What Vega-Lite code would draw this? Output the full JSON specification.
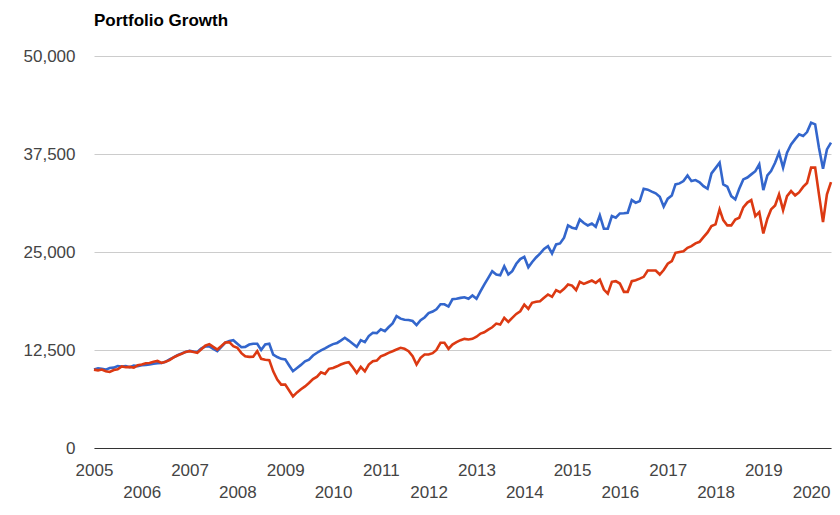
{
  "$schema": "https://vega.github.io/schema/vega-lite/v6.json",
  "width": 737,
  "height": 392,
  "autosize": "none",
  "padding": {"left": 94, "top": 56, "right": 9, "bottom": 67},
  "background": "white",
  "config": {
    "view": {"stroke": null},
    "font": "Liberation Sans, Arial, sans-serif",
    "axis": {"labelFont": "Liberation Sans, Arial, sans-serif"}
  },
  "title": {
    "text": "Portfolio Growth",
    "anchor": "start",
    "frame": "group",
    "font": "Liberation Sans, Arial, sans-serif",
    "fontSize": 17,
    "fontWeight": "bold",
    "color": "#000000",
    "baseline": "alphabetic",
    "offset": 4
  },
  "data": {
    "values": [
      {"date": "2005/01/01", "Portfolio 1": 10000, "Portfolio 2": 10000},
      {"date": "2005/02/01", "Portfolio 1": 10150, "Portfolio 2": 9900},
      {"date": "2005/03/01", "Portfolio 1": 10100, "Portfolio 2": 10000},
      {"date": "2005/04/01", "Portfolio 1": 10000, "Portfolio 2": 9800},
      {"date": "2005/05/01", "Portfolio 1": 10200, "Portfolio 2": 9700},
      {"date": "2005/06/01", "Portfolio 1": 10250, "Portfolio 2": 9950},
      {"date": "2005/07/01", "Portfolio 1": 10450, "Portfolio 2": 10050},
      {"date": "2005/08/01", "Portfolio 1": 10400, "Portfolio 2": 10400},
      {"date": "2005/09/01", "Portfolio 1": 10450, "Portfolio 2": 10300},
      {"date": "2005/10/01", "Portfolio 1": 10300, "Portfolio 2": 10350},
      {"date": "2005/11/01", "Portfolio 1": 10500, "Portfolio 2": 10250},
      {"date": "2005/12/01", "Portfolio 1": 10450, "Portfolio 2": 10550},
      {"date": "2006/01/01", "Portfolio 1": 10550, "Portfolio 2": 10650},
      {"date": "2006/02/01", "Portfolio 1": 10600, "Portfolio 2": 10800},
      {"date": "2006/03/01", "Portfolio 1": 10650, "Portfolio 2": 10850},
      {"date": "2006/04/01", "Portfolio 1": 10750, "Portfolio 2": 11000},
      {"date": "2006/05/01", "Portfolio 1": 10800, "Portfolio 2": 11100},
      {"date": "2006/06/01", "Portfolio 1": 10850, "Portfolio 2": 10850},
      {"date": "2006/07/01", "Portfolio 1": 11000, "Portfolio 2": 11000},
      {"date": "2006/08/01", "Portfolio 1": 11300, "Portfolio 2": 11200},
      {"date": "2006/09/01", "Portfolio 1": 11550, "Portfolio 2": 11550},
      {"date": "2006/10/01", "Portfolio 1": 11850, "Portfolio 2": 11800},
      {"date": "2006/11/01", "Portfolio 1": 12050, "Portfolio 2": 12000},
      {"date": "2006/12/01", "Portfolio 1": 12250, "Portfolio 2": 12250},
      {"date": "2007/01/01", "Portfolio 1": 12400, "Portfolio 2": 12350},
      {"date": "2007/02/01", "Portfolio 1": 12300, "Portfolio 2": 12250},
      {"date": "2007/03/01", "Portfolio 1": 12250, "Portfolio 2": 12140},
      {"date": "2007/04/01", "Portfolio 1": 12700, "Portfolio 2": 12600},
      {"date": "2007/05/01", "Portfolio 1": 12950, "Portfolio 2": 13050},
      {"date": "2007/06/01", "Portfolio 1": 12950, "Portfolio 2": 13250},
      {"date": "2007/07/01", "Portfolio 1": 12650, "Portfolio 2": 12900},
      {"date": "2007/08/01", "Portfolio 1": 12350, "Portfolio 2": 12560},
      {"date": "2007/09/01", "Portfolio 1": 12900, "Portfolio 2": 13000},
      {"date": "2007/10/01", "Portfolio 1": 13450, "Portfolio 2": 13450},
      {"date": "2007/11/01", "Portfolio 1": 13650, "Portfolio 2": 13500},
      {"date": "2007/12/01", "Portfolio 1": 13750, "Portfolio 2": 13000},
      {"date": "2008/01/01", "Portfolio 1": 13300, "Portfolio 2": 12780},
      {"date": "2008/02/01", "Portfolio 1": 12850, "Portfolio 2": 12100},
      {"date": "2008/03/01", "Portfolio 1": 12900, "Portfolio 2": 11700},
      {"date": "2008/04/01", "Portfolio 1": 13200, "Portfolio 2": 11620},
      {"date": "2008/05/01", "Portfolio 1": 13300, "Portfolio 2": 11650},
      {"date": "2008/06/01", "Portfolio 1": 13300, "Portfolio 2": 12350},
      {"date": "2008/07/01", "Portfolio 1": 12500, "Portfolio 2": 11370},
      {"date": "2008/08/01", "Portfolio 1": 13200, "Portfolio 2": 11250},
      {"date": "2008/09/01", "Portfolio 1": 13300, "Portfolio 2": 11200},
      {"date": "2008/10/01", "Portfolio 1": 11900, "Portfolio 2": 9780},
      {"date": "2008/11/01", "Portfolio 1": 11600, "Portfolio 2": 8720},
      {"date": "2008/12/01", "Portfolio 1": 11370, "Portfolio 2": 8080},
      {"date": "2009/01/01", "Portfolio 1": 11300, "Portfolio 2": 8080},
      {"date": "2009/02/01", "Portfolio 1": 10500, "Portfolio 2": 7300},
      {"date": "2009/03/01", "Portfolio 1": 9800, "Portfolio 2": 6570},
      {"date": "2009/04/01", "Portfolio 1": 10210, "Portfolio 2": 7090},
      {"date": "2009/05/01", "Portfolio 1": 10600, "Portfolio 2": 7500},
      {"date": "2009/06/01", "Portfolio 1": 11050, "Portfolio 2": 7860},
      {"date": "2009/07/01", "Portfolio 1": 11280, "Portfolio 2": 8290},
      {"date": "2009/08/01", "Portfolio 1": 11800, "Portfolio 2": 8800},
      {"date": "2009/09/01", "Portfolio 1": 12150, "Portfolio 2": 9100},
      {"date": "2009/10/01", "Portfolio 1": 12450, "Portfolio 2": 9650},
      {"date": "2009/11/01", "Portfolio 1": 12700, "Portfolio 2": 9450},
      {"date": "2009/12/01", "Portfolio 1": 13000, "Portfolio 2": 10100},
      {"date": "2010/01/01", "Portfolio 1": 13250, "Portfolio 2": 10210},
      {"date": "2010/02/01", "Portfolio 1": 13400, "Portfolio 2": 10420},
      {"date": "2010/03/01", "Portfolio 1": 13700, "Portfolio 2": 10650},
      {"date": "2010/04/01", "Portfolio 1": 14060, "Portfolio 2": 10850},
      {"date": "2010/05/01", "Portfolio 1": 13700, "Portfolio 2": 10940},
      {"date": "2010/06/01", "Portfolio 1": 13300, "Portfolio 2": 10300},
      {"date": "2010/07/01", "Portfolio 1": 12900, "Portfolio 2": 9570},
      {"date": "2010/08/01", "Portfolio 1": 13750, "Portfolio 2": 10340},
      {"date": "2010/09/01", "Portfolio 1": 13500, "Portfolio 2": 9780},
      {"date": "2010/10/01", "Portfolio 1": 14270, "Portfolio 2": 10640},
      {"date": "2010/11/01", "Portfolio 1": 14700, "Portfolio 2": 11060},
      {"date": "2010/12/01", "Portfolio 1": 14650, "Portfolio 2": 11150},
      {"date": "2011/01/01", "Portfolio 1": 15130, "Portfolio 2": 11700},
      {"date": "2011/02/01", "Portfolio 1": 14910, "Portfolio 2": 11900},
      {"date": "2011/03/01", "Portfolio 1": 15400, "Portfolio 2": 12140},
      {"date": "2011/04/01", "Portfolio 1": 15900, "Portfolio 2": 12350},
      {"date": "2011/05/01", "Portfolio 1": 16830, "Portfolio 2": 12560},
      {"date": "2011/06/01", "Portfolio 1": 16500, "Portfolio 2": 12780},
      {"date": "2011/07/01", "Portfolio 1": 16350, "Portfolio 2": 12650},
      {"date": "2011/08/01", "Portfolio 1": 16320, "Portfolio 2": 12350},
      {"date": "2011/09/01", "Portfolio 1": 16200, "Portfolio 2": 11700},
      {"date": "2011/10/01", "Portfolio 1": 15680, "Portfolio 2": 10640},
      {"date": "2011/11/01", "Portfolio 1": 16300, "Portfolio 2": 11500},
      {"date": "2011/12/01", "Portfolio 1": 16650, "Portfolio 2": 11920},
      {"date": "2012/01/01", "Portfolio 1": 17200, "Portfolio 2": 11920},
      {"date": "2012/02/01", "Portfolio 1": 17400, "Portfolio 2": 12100},
      {"date": "2012/03/01", "Portfolio 1": 17700, "Portfolio 2": 12500},
      {"date": "2012/04/01", "Portfolio 1": 18330, "Portfolio 2": 13420},
      {"date": "2012/05/01", "Portfolio 1": 18330, "Portfolio 2": 13420},
      {"date": "2012/06/01", "Portfolio 1": 18040, "Portfolio 2": 12650},
      {"date": "2012/07/01", "Portfolio 1": 18970, "Portfolio 2": 13200},
      {"date": "2012/08/01", "Portfolio 1": 19030, "Portfolio 2": 13500},
      {"date": "2012/09/01", "Portfolio 1": 19150, "Portfolio 2": 13750},
      {"date": "2012/10/01", "Portfolio 1": 19230, "Portfolio 2": 13920},
      {"date": "2012/11/01", "Portfolio 1": 19030, "Portfolio 2": 13850},
      {"date": "2012/12/01", "Portfolio 1": 19450, "Portfolio 2": 13920},
      {"date": "2013/01/01", "Portfolio 1": 19030, "Portfolio 2": 14200},
      {"date": "2013/02/01", "Portfolio 1": 20000, "Portfolio 2": 14600},
      {"date": "2013/03/01", "Portfolio 1": 20850, "Portfolio 2": 14760},
      {"date": "2013/04/01", "Portfolio 1": 21700, "Portfolio 2": 15100},
      {"date": "2013/05/01", "Portfolio 1": 22550, "Portfolio 2": 15400},
      {"date": "2013/06/01", "Portfolio 1": 22130, "Portfolio 2": 15870},
      {"date": "2013/07/01", "Portfolio 1": 22040, "Portfolio 2": 15740},
      {"date": "2013/08/01", "Portfolio 1": 23190, "Portfolio 2": 16600},
      {"date": "2013/09/01", "Portfolio 1": 22130, "Portfolio 2": 16090},
      {"date": "2013/10/01", "Portfolio 1": 22550, "Portfolio 2": 16600},
      {"date": "2013/11/01", "Portfolio 1": 23500, "Portfolio 2": 17100},
      {"date": "2013/12/01", "Portfolio 1": 24100, "Portfolio 2": 17440},
      {"date": "2014/01/01", "Portfolio 1": 24390, "Portfolio 2": 18300},
      {"date": "2014/02/01", "Portfolio 1": 23060, "Portfolio 2": 17750},
      {"date": "2014/03/01", "Portfolio 1": 23700, "Portfolio 2": 18520},
      {"date": "2014/04/01", "Portfolio 1": 24300, "Portfolio 2": 18650},
      {"date": "2014/05/01", "Portfolio 1": 24800, "Portfolio 2": 18720},
      {"date": "2014/06/01", "Portfolio 1": 25400, "Portfolio 2": 19150},
      {"date": "2014/07/01", "Portfolio 1": 25750, "Portfolio 2": 19580},
      {"date": "2014/08/01", "Portfolio 1": 24810, "Portfolio 2": 19280},
      {"date": "2014/09/01", "Portfolio 1": 25960, "Portfolio 2": 20130},
      {"date": "2014/10/01", "Portfolio 1": 26090, "Portfolio 2": 19870},
      {"date": "2014/11/01", "Portfolio 1": 26820, "Portfolio 2": 20300},
      {"date": "2014/12/01", "Portfolio 1": 28390, "Portfolio 2": 20850},
      {"date": "2015/01/01", "Portfolio 1": 28100, "Portfolio 2": 20720},
      {"date": "2015/02/01", "Portfolio 1": 27970, "Portfolio 2": 20130},
      {"date": "2015/03/01", "Portfolio 1": 29150, "Portfolio 2": 21200},
      {"date": "2015/04/01", "Portfolio 1": 28700, "Portfolio 2": 20940},
      {"date": "2015/05/01", "Portfolio 1": 28390, "Portfolio 2": 21150},
      {"date": "2015/06/01", "Portfolio 1": 28640, "Portfolio 2": 21360},
      {"date": "2015/07/01", "Portfolio 1": 28220, "Portfolio 2": 21070},
      {"date": "2015/08/01", "Portfolio 1": 29660, "Portfolio 2": 21490},
      {"date": "2015/09/01", "Portfolio 1": 27970, "Portfolio 2": 20210},
      {"date": "2015/10/01", "Portfolio 1": 27970, "Portfolio 2": 19700},
      {"date": "2015/11/01", "Portfolio 1": 29580, "Portfolio 2": 21200},
      {"date": "2015/12/01", "Portfolio 1": 29370, "Portfolio 2": 21280},
      {"date": "2016/01/01", "Portfolio 1": 29920, "Portfolio 2": 20980},
      {"date": "2016/02/01", "Portfolio 1": 29950, "Portfolio 2": 19920},
      {"date": "2016/03/01", "Portfolio 1": 30010, "Portfolio 2": 19920},
      {"date": "2016/04/01", "Portfolio 1": 31620, "Portfolio 2": 21280},
      {"date": "2016/05/01", "Portfolio 1": 31290, "Portfolio 2": 21400},
      {"date": "2016/06/01", "Portfolio 1": 31490, "Portfolio 2": 21600},
      {"date": "2016/07/01", "Portfolio 1": 33070, "Portfolio 2": 21830},
      {"date": "2016/08/01", "Portfolio 1": 32950, "Portfolio 2": 22640},
      {"date": "2016/09/01", "Portfolio 1": 32700, "Portfolio 2": 22640},
      {"date": "2016/10/01", "Portfolio 1": 32480, "Portfolio 2": 22640},
      {"date": "2016/11/01", "Portfolio 1": 32050, "Portfolio 2": 22130},
      {"date": "2016/12/01", "Portfolio 1": 30780, "Portfolio 2": 22700},
      {"date": "2017/01/01", "Portfolio 1": 31800, "Portfolio 2": 23500},
      {"date": "2017/02/01", "Portfolio 1": 32220, "Portfolio 2": 23830},
      {"date": "2017/03/01", "Portfolio 1": 33620, "Portfolio 2": 24900},
      {"date": "2017/04/01", "Portfolio 1": 33750, "Portfolio 2": 25000},
      {"date": "2017/05/01", "Portfolio 1": 34040, "Portfolio 2": 25100},
      {"date": "2017/06/01", "Portfolio 1": 34770, "Portfolio 2": 25540},
      {"date": "2017/07/01", "Portfolio 1": 34040, "Portfolio 2": 25750},
      {"date": "2017/08/01", "Portfolio 1": 34170, "Portfolio 2": 26100},
      {"date": "2017/09/01", "Portfolio 1": 33900, "Portfolio 2": 26300},
      {"date": "2017/10/01", "Portfolio 1": 33400, "Portfolio 2": 26900},
      {"date": "2017/11/01", "Portfolio 1": 33070, "Portfolio 2": 27500},
      {"date": "2017/12/01", "Portfolio 1": 35030, "Portfolio 2": 28300},
      {"date": "2018/01/01", "Portfolio 1": 35700, "Portfolio 2": 28520},
      {"date": "2018/02/01", "Portfolio 1": 36390, "Portfolio 2": 30430},
      {"date": "2018/03/01", "Portfolio 1": 33620, "Portfolio 2": 29070},
      {"date": "2018/04/01", "Portfolio 1": 33330, "Portfolio 2": 28390},
      {"date": "2018/05/01", "Portfolio 1": 32130, "Portfolio 2": 28390},
      {"date": "2018/06/01", "Portfolio 1": 31710, "Portfolio 2": 29150},
      {"date": "2018/07/01", "Portfolio 1": 33070, "Portfolio 2": 29370},
      {"date": "2018/08/01", "Portfolio 1": 34260, "Portfolio 2": 30700},
      {"date": "2018/09/01", "Portfolio 1": 34500, "Portfolio 2": 31300},
      {"date": "2018/10/01", "Portfolio 1": 34900, "Portfolio 2": 31620},
      {"date": "2018/11/01", "Portfolio 1": 35300, "Portfolio 2": 29580},
      {"date": "2018/12/01", "Portfolio 1": 36180, "Portfolio 2": 30090},
      {"date": "2019/01/01", "Portfolio 1": 32900, "Portfolio 2": 27370},
      {"date": "2019/02/01", "Portfolio 1": 34770, "Portfolio 2": 29240},
      {"date": "2019/03/01", "Portfolio 1": 35320, "Portfolio 2": 30430},
      {"date": "2019/04/01", "Portfolio 1": 36390, "Portfolio 2": 30940},
      {"date": "2019/05/01", "Portfolio 1": 37670, "Portfolio 2": 32350},
      {"date": "2019/06/01", "Portfolio 1": 35760, "Portfolio 2": 30340},
      {"date": "2019/07/01", "Portfolio 1": 37670, "Portfolio 2": 32130},
      {"date": "2019/08/01", "Portfolio 1": 38730, "Portfolio 2": 32770},
      {"date": "2019/09/01", "Portfolio 1": 39400, "Portfolio 2": 32220},
      {"date": "2019/10/01", "Portfolio 1": 40010, "Portfolio 2": 32600},
      {"date": "2019/11/01", "Portfolio 1": 39790, "Portfolio 2": 33300},
      {"date": "2019/12/01", "Portfolio 1": 40300, "Portfolio 2": 33800},
      {"date": "2020/01/01", "Portfolio 1": 41500, "Portfolio 2": 35760},
      {"date": "2020/02/01", "Portfolio 1": 41280, "Portfolio 2": 35760},
      {"date": "2020/03/01", "Portfolio 1": 38300, "Portfolio 2": 32350},
      {"date": "2020/04/01", "Portfolio 1": 35630, "Portfolio 2": 28810},
      {"date": "2020/05/01", "Portfolio 1": 38090, "Portfolio 2": 32350},
      {"date": "2020/06/01", "Portfolio 1": 38950, "Portfolio 2": 33920}
    ]
  },
  "transform": [
    {"fold": ["Portfolio 1", "Portfolio 2"], "as": ["series", "value"]}
  ],
  "mark": {"type": "line", "strokeWidth": 2.6, "interpolate": "linear"},
  "encoding": {
    "x": {
      "field": "date",
      "type": "temporal",
      "scale": {"domain": ["2005/01/01", "2020/06/01"], "nice": false},
      "axis": {
        "title": null,
        "format": "%Y",
        "tickCount": {"interval": "year", "step": 1},
        "grid": false,
        "ticks": false,
        "domain": true,
        "domainColor": "#333333",
        "domainWidth": 1,
        "labelFontSize": 17,
        "labelColor": "#444444",
        "labelAlign": "center",
        "labelBaseline": "top",
        "labelOverlap": false,
        "labelFlush": false,
        "labelPadding": {"condition": {"test": "year(datum.value) % 2 == 0", "value": 36}, "value": 14}
      }
    },
    "y": {
      "field": "value",
      "type": "quantitative",
      "scale": {"domain": [0, 50000], "nice": false, "zero": true},
      "axis": {
        "title": null,
        "values": [0, 12500, 25000, 37500, 50000],
        "format": ",d",
        "domain": false,
        "ticks": false,
        "grid": true,
        "gridColor": "#cccccc",
        "gridWidth": 1,
        "labelFontSize": 17,
        "labelColor": "#444444",
        "labelPadding": 19
      }
    },
    "color": {
      "field": "series",
      "type": "nominal",
      "scale": {"domain": ["Portfolio 1", "Portfolio 2"], "range": ["#3366cc", "#dc3912"]},
      "legend": null
    },
    "order": {"field": "series"}
  }
}
